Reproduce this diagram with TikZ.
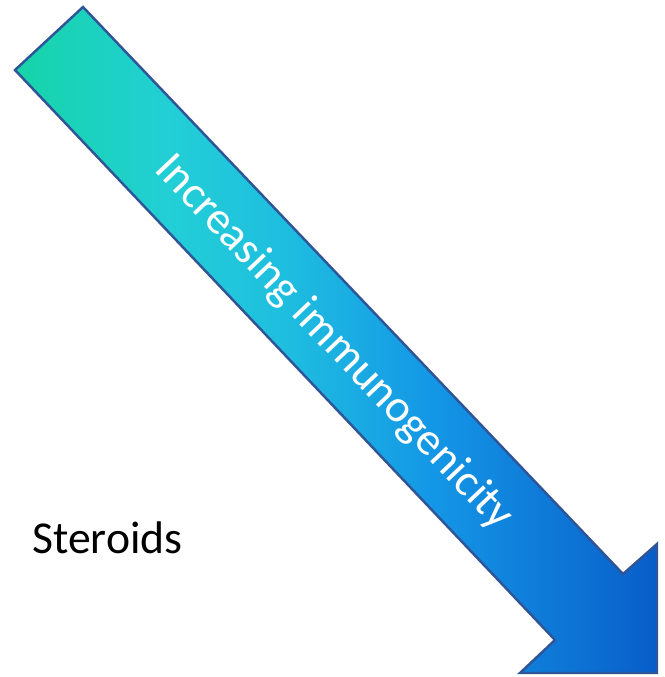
\documentclass[tikz,border=0pt]{standalone}
\usepackage{fontspec}
\setmainfont{Carlito}
\usepackage{xcolor}
\usepackage{tikz}
\usetikzlibrary{positioning,calc}
\definecolor{arredge}{RGB}{47,85,151}
\pgfdeclarehorizontalshading{arrshade}{100bp}{
  rgb(0bp)=(0.086,0.831,0.659); rgb(25bp)=(0.086,0.831,0.659);
  rgb(37bp)=(0.133,0.812,0.839); rgb(46.4bp)=(0.118,0.741,0.878);
  rgb(57.7bp)=(0.078,0.588,0.902); rgb(73.3bp)=(0.039,0.388,0.800);
  rgb(75bp)=(0.024,0.361,0.784); rgb(100bp)=(0.024,0.361,0.784)}
\tikzset{
  bigarrow/.style={draw=arredge, line width=1.4pt, line join=miter, shade, shading=arrshade},
  arrlabel/.style={text=white, font=\fontsize{26}{30}\selectfont, inner sep=0pt},
  sidelabel/.style={text=black, font=\fontsize{26}{30}\selectfont, inner sep=0pt},
}

\begin{document}
\begin{tikzpicture}[x=0.02cm, y=-0.02cm]
\useasboundingbox (0,0) rectangle (664,677);
% arrow outline
\coordinate (tailtop) at (83,7);
\coordinate (tailbot) at (15,70);
\coordinate (notchbot) at (555,640);
\coordinate (barbbot) at (520,673);
\coordinate (tip) at (657,673);
\coordinate (barbtop) at (657,544);
\coordinate (notchtop) at (623,574);
\path[bigarrow] (tailtop) -- (tailbot) -- (notchbot) -- (barbbot) -- (tip)
  -- (barbtop) -- (notchtop) -- cycle;
\node[arrlabel, rotate=-46.5] (immuno) at (334,343) {Increasing immunogenicity};
\node[sidelabel, anchor=base west] (steroids) at (32,553) {Steroids};
\end{tikzpicture}
\end{document}
